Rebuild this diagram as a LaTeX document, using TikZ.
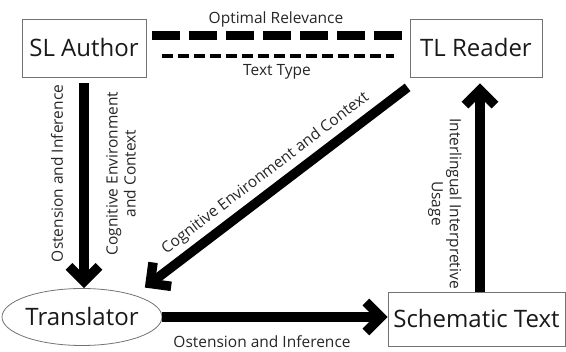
\documentclass[tikz,border=0pt]{standalone}
\usepackage{fontspec}
\setmainfont{Open Sans}
\usetikzlibrary{arrows.meta,shapes.geometric}
\begin{document}
\begin{tikzpicture}[x=1pt,y=-1pt,
  box/.style={draw=black!55,line width=0.8pt,inner sep=0pt,text=black!90,
    font=\fontsize{24}{28}\selectfont},
  flow/.style={line width=9.5pt,-{Straight Barb[length=15pt,width=30pt]}},
  lbl/.style={font=\fontsize{15.5}{18}\selectfont,text=black!85,inner sep=0pt},
  bigdash/.style={line width=9pt,dash pattern=on 28pt off 9pt},
  smalldash/.style={line width=4pt,dash pattern=on 10.5pt off 5.5pt}]
\useasboundingbox (0,0) rectangle (566,352);
% participants
\node[box,minimum width=124pt,minimum height=58pt] (author) at (84,48) {SL Author};
\node[box,minimum width=132pt,minimum height=58pt] (reader) at (476,48) {TL Reader};
\node[box,ellipse,minimum width=138pt,minimum height=57pt] (translator) at (82,317) {Translator};
\node[box,minimum width=177pt,minimum height=54pt] (schem) at (476.5,319) {Schematic Text};
% relations between author and reader
\coordinate (a1) at (152,35.5);
\coordinate (a2) at (402,35.5);
\coordinate (b1) at (162,56);
\coordinate (b2) at (394,56);
\draw[bigdash] (a1) -- (a2);
\draw[smalldash] (b1) -- (b2);
\node[lbl] (optrel) at (276,19) {Optimal Relevance};
\node[lbl] (ttype) at (277,72) {Text Type};
% flows
\draw[flow] ([yshift=-6pt]author.south) -- (author.south |- translator.north);
\node[lbl,rotate=90] (osinf1) at (57,173.5) {Ostension and Inference};
\node[lbl,rotate=90,align=center] (cogenv1) at (121,173.5) {Cognitive Environment\\and Context};
\draw[flow] (translator.east) -- (translator.east -| schem.west);
\node[lbl] (osinf2) at (262,342) {Ostension and Inference};
\coordinate (upx) at (480,0);
\draw[flow] (schem.north -| upx) -- ([yshift=-6pt]reader.south -| upx);
\node[lbl,rotate=-90,align=center] (interl) at (445,203.5) {Interlingual Interpretive\\Usage};
\draw[flow] ([shift={(-2,10)}]reader.south west) --
  node[lbl,midway,sloped,above=5pt] (cogenv2) {Cognitive Environment and Context}
  ([shift={(6,-9)}]translator.north east);
\end{tikzpicture}
\end{document}
